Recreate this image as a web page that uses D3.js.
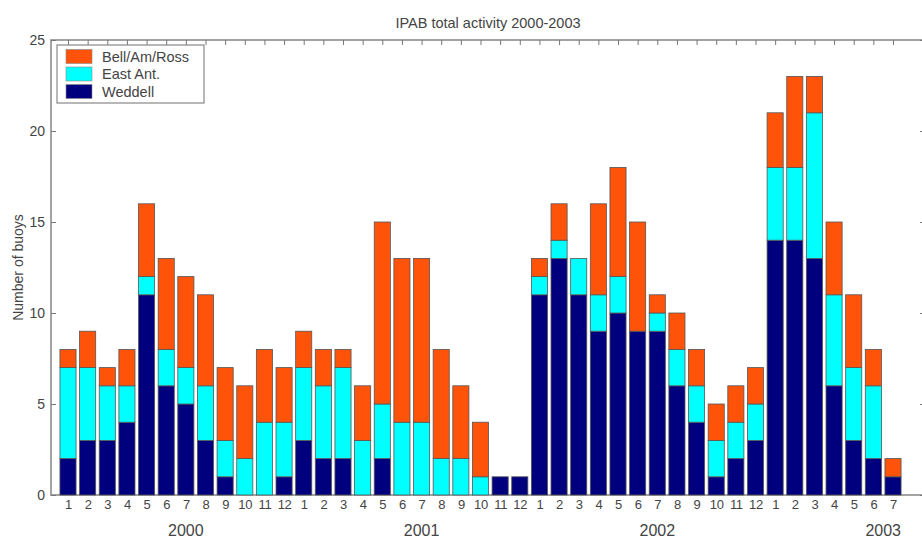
<!DOCTYPE html>
<html>
<head>
<meta charset="utf-8">
<script src="https://cdn.jsdelivr.net/npm/d3@7"></script>
<style>
  body { margin: 0; background: #fff; }
  svg { display: block; font-family: "Liberation Sans", Arial, sans-serif; }
</style>
</head>
<body>
<svg id="chart" width="922" height="540"></svg>
<script>
// months 2000-01 .. 2003-07
var months = [1,2,3,4,5,6,7,8,9,10,11,12, 1,2,3,4,5,6,7,8,9,10,11,12,
              1,2,3,4,5,6,7,8,9,10,11,12, 1,2,3,4,5,6,7];
var years = ["2000", "2001", "2002", "2003"];
var yearPos = [7, 19, 31, 42.5];

var weddell = [2,3,3,4,11,6,5,3,1,0,0,1, 3,2,2,0,2,0,0,0,0,0,1,1,
               11,13,11,9,10,9,9,6,4,1,2,3, 14,14,13,6,3,2,1];
var eastAnt = [5,4,3,2,1,2,2,3,2,2,4,3, 4,4,5,3,3,4,4,2,2,1,0,0,
               1,1,2,2,2,0,1,2,2,2,2,2, 4,4,8,5,4,4,0];
var bellAmRoss = [1,2,1,2,4,5,5,5,4,4,4,3, 2,2,1,3,10,9,9,6,4,3,0,0,
                  1,2,0,5,6,6,1,2,2,2,2,2, 3,5,2,4,4,2,1];

var seriesNames = ["Weddell", "East Ant.", "Bell/Am/Ross"];
var seriesColors = ["#00007f", "#00ffff", "#ff530a"];
var yTicks = [0, 5, 10, 15, 20, 25];

var svg = d3.select("#chart");
var mLeft = 51, mRight = 925, mTop = 40, mBottom = 495;

var x = d3.scaleLinear().domain([1, 43]).range([68, 893]);
var y = d3.scaleLinear().domain([0, 25]).range([mBottom, mTop]);
var barW = (x(2) - x(1)) * 0.82;

var rows = months.map(function(m, i) {
  return { i: i + 1, m: m, w: weddell[i], e: eastAnt[i], b: bellAmRoss[i] };
});
var stack = d3.stack().keys(["w", "e", "b"])(rows);

// axes box
svg.append("rect")
  .attr("x", mLeft).attr("y", mTop)
  .attr("width", mRight - mLeft).attr("height", mBottom - mTop)
  .attr("fill", "none").attr("stroke", "#9a9a9a").attr("stroke-width", 1.8);

// bars
stack.forEach(function(layer, k) {
  svg.append("g").selectAll("rect")
    .data(layer.filter(function(d) { return d[1] > d[0]; }))
    .enter().append("rect")
    .attr("x", function(d) { return x(d.data.i) - barW / 2; })
    .attr("y", function(d) { return y(d[1]); })
    .attr("width", barW)
    .attr("height", function(d) { return y(d[0]) - y(d[1]); })
    .attr("fill", seriesColors[k])
    .attr("stroke", "#555")
    .attr("stroke-width", 0.8);
});

// bottom axis (month numbers)
var xb = svg.append("g")
  .attr("transform", "translate(0," + mBottom + ")")
  .call(d3.axisBottom(x).tickValues(d3.range(1, 44)).tickSize(0).tickPadding(5)
    .tickFormat(function(d) { return months[d - 1]; }));
xb.select(".domain").remove();
xb.selectAll("text").attr("font-size", 13).attr("fill", "#444")
  .attr("letter-spacing", -0.3);

// top ticks
var xt = svg.append("g")
  .attr("transform", "translate(0," + mTop + ")")
  .call(d3.axisBottom(x).tickValues(d3.range(1, 44)).tickSize(5).tickFormat(""));
xt.select(".domain").remove();
xt.selectAll("line").attr("stroke", "#777");

// left axis
var yl = svg.append("g")
  .attr("transform", "translate(" + mLeft + ",0)")
  .call(d3.axisLeft(y).tickValues(yTicks).tickSize(-5).tickPadding(6));
yl.select(".domain").remove();
yl.selectAll("line").attr("stroke", "#777");
yl.selectAll("text").attr("font-size", 14).attr("fill", "#444");

// right ticks
var yr = svg.append("g")
  .attr("transform", "translate(" + mRight + ",0)")
  .call(d3.axisRight(y).tickValues(yTicks).tickSize(-5).tickFormat(""));
yr.select(".domain").remove();
yr.selectAll("line").attr("stroke", "#777");

// year labels
svg.append("g").selectAll("text")
  .data(years)
  .enter().append("text")
  .attr("x", function(d, i) { return x(yearPos[i]); })
  .attr("y", 536)
  .attr("text-anchor", "middle")
  .attr("font-size", 16)
  .attr("fill", "#444")
  .text(function(d) { return d; });

// title
svg.append("text")
  .attr("x", 488).attr("y", 28)
  .attr("text-anchor", "middle")
  .attr("font-size", 14.5)
  .attr("fill", "#444")
  .text("IPAB total activity 2000-2003");

// y label
svg.append("text")
  .attr("transform", "translate(23," + ((mTop + mBottom) / 2) + ") rotate(-90)")
  .attr("text-anchor", "middle")
  .attr("font-size", 14)
  .attr("fill", "#444")
  .text("Number of buoys");

// legend
var lg = svg.append("g").attr("transform", "translate(57,45)");
lg.append("rect")
  .attr("width", 147).attr("height", 58)
  .attr("fill", "#fff").attr("stroke", "#888").attr("stroke-width", 1.2);
var legendOrder = [2, 1, 0];
legendOrder.forEach(function(k, j) {
  lg.append("rect")
    .attr("x", 9).attr("y", 4.5 + j * 17.5)
    .attr("width", 26).attr("height", 14)
    .attr("fill", seriesColors[k]).attr("stroke", "#888").attr("stroke-width", 0.6);
  lg.append("text")
    .attr("x", 45).attr("y", 16.5 + j * 17.5)
    .attr("font-size", 14.5).attr("fill", "#444")
    .text(seriesNames[k]);
});
</script>
</body>
</html>
